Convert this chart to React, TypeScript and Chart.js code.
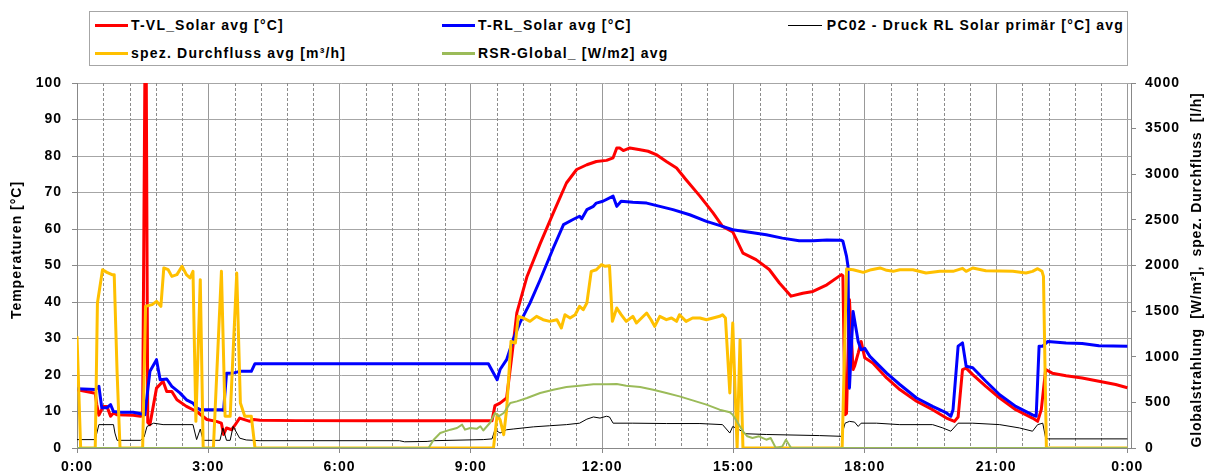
import React, { useEffect, useRef } from 'react';
import { Chart, registerables } from 'chart.js';

Chart.register(...registerables);

const FONT = "'Liberation Sans', Arial, Helvetica, sans-serif";

// x positions are minutes after midnight
const xTickMinutes = [0, 180, 360, 540, 720, 900, 1080, 1260, 1440];
const xTickLabels = ['0:00', '3:00', '6:00', '9:00', '12:00', '15:00', '18:00', '21:00', '0:00'];
const MINOR_STEP = 36;

// T-VL_Solar avg [°C]  (left axis)
const tVL: [number, number][] = [
  [0, 16], [25, 15], [27, 12], [30, 9], [36, 11.4], [41, 11.4], [46, 8.7], [50, 9.6], [55, 9.1],
  [77, 9], [87, 8.7], [90, 8.8], [93, 100], [95, 100], [97, 7], [100, 6.4], [109, 16.4], [118, 18.3],
  [123, 15.5], [130, 15.5], [137, 13.2], [150, 11.4], [164, 10], [178, 7.8], [191, 7.3], [198, 6.8],
  [201, 3.7], [205, 5.5], [212, 5], [216, 6.1], [223, 8.2], [237, 7.3], [242, 7.8], [251, 7.6],
  [300, 7.5], [400, 7.5], [500, 7.5], [569, 7.5], [573, 11.6], [580, 12.3], [589, 13.7], [596, 25],
  [603, 37], [617, 47], [635, 56], [653, 64.4], [671, 72.6], [685, 76.3], [699, 77.6], [712, 78.5],
  [726, 78.8], [735, 79.5], [740, 82.2], [744, 82.2], [749, 81.5], [758, 82.2], [772, 81.7], [783, 81.3],
  [794, 80.4], [808, 78.5], [822, 76.7], [835, 73.5], [854, 69], [872, 64.4], [885, 60.7], [899, 59.2],
  [913, 53.4], [931, 51.6], [949, 48.9], [963, 45.2], [979, 41.6], [995, 42.4], [1009, 42.9], [1028, 44.7],
  [1048, 47.5], [1050, 47.2], [1053, 9.1], [1055, 9.5], [1059, 40.6], [1064, 21.5], [1066, 22.4],
  [1071, 26], [1075, 29.2], [1080, 24.7], [1091, 23.3], [1110, 19.2], [1128, 16], [1151, 12.8],
  [1173, 10.5], [1192, 8.2], [1203, 7.3], [1208, 8.5], [1214, 21.5], [1219, 21.9], [1228, 20.1],
  [1246, 16.9], [1265, 13.7], [1287, 10.5], [1310, 8.2], [1317, 7.3], [1322, 10.5], [1328, 21.5],
  [1337, 20.5], [1356, 19.8], [1378, 19.2], [1401, 18.3], [1424, 17.4], [1440, 16.5],
];

// T-RL_Solar avg [°C]  (left axis)
const tRL: [number, number][] = [
  [0, 16.2], [25, 16], [30, 16.9], [34, 11], [41, 11], [46, 11.9], [50, 10], [59, 9.8], [77, 9.8],
  [87, 9.4], [93, 9.1], [100, 21], [109, 24.2], [114, 18.7], [123, 18.9], [130, 16.9], [141, 15.1],
  [150, 13.2], [159, 12.3], [164, 11], [169, 10.5], [198, 10.5], [201, 10.3], [205, 20.5], [214, 20.5],
  [223, 21], [239, 21], [244, 23.1], [564, 23.1], [576, 18.7], [580, 21.5], [589, 24.2], [598, 29.7],
  [607, 34.2], [621, 39.7], [635, 46.1], [653, 54.8], [667, 61.2], [680, 62.6], [689, 63.5], [692, 62.8],
  [699, 65.3], [708, 66.2], [712, 67.1], [721, 67.6], [735, 69], [740, 66.2], [746, 67.6], [762, 67.3],
  [781, 67.1], [799, 66.2], [817, 65.3], [840, 63.9], [863, 62.1], [885, 60.7], [899, 59.8], [922, 59.1],
  [945, 58.4], [967, 57.5], [990, 56.8], [1009, 56.8], [1028, 57], [1048, 56.9], [1050, 56.7],
  [1055, 52.5], [1057, 49.8], [1059, 16.4], [1064, 37.4], [1071, 29.2], [1075, 26.9], [1080, 27.3],
  [1087, 25.1], [1110, 20.5], [1128, 17.4], [1151, 13.7], [1173, 11.4], [1192, 9.6], [1198, 8.7],
  [1201, 10.5], [1208, 27.9], [1214, 28.8], [1219, 22.4], [1228, 22], [1246, 18.3], [1265, 14.6],
  [1287, 11.4], [1310, 9.1], [1315, 8.7], [1319, 27.9], [1324, 27.9], [1331, 29.2], [1356, 28.8],
  [1378, 28.6], [1401, 28], [1440, 27.9],
];

// PC02 - Druck RL Solar primär  (left axis)
const pc02: [number, number][] = [
  [0, 2.3], [25, 2.3], [30, 6.4], [50, 6.4], [52, 4.1], [55, 2.1], [87, 2.1], [92, 3], [96, 5.9],
  [105, 6.8], [118, 6.4], [159, 6.4], [164, 2.3], [169, 5.2], [173, 2.1], [196, 2.1], [200, 5.5],
  [205, 2.1], [210, 2.1], [214, 5.9], [223, 2.7], [232, 2.2], [251, 2.0], [442, 2.0], [449, 1.7],
  [480, 1.8], [489, 2.0], [557, 2.3], [569, 2.5], [573, 5], [580, 4.1], [589, 5], [598, 5.2], [626, 5.8],
  [648, 6.1], [671, 6.4], [689, 6.8], [699, 7.9], [708, 8.5], [717, 8.2], [726, 8.7], [730, 8.5],
  [735, 6.8], [762, 6.8], [808, 6.7], [854, 6.7], [885, 6.4], [895, 4.1], [899, 5.9], [908, 5],
  [917, 3.9], [945, 3.7], [1018, 3.4], [1048, 3.2], [1053, 6.8], [1059, 7.3], [1066, 7.1], [1071, 5.9],
  [1075, 6.8], [1096, 6.8], [1128, 6.4], [1173, 6.4], [1187, 5.5], [1198, 4.6], [1208, 6.8], [1228, 6.8],
  [1265, 6.4], [1292, 5.5], [1310, 4.6], [1317, 6.4], [1324, 6.8], [1328, 2.7], [1332, 2.5], [1440, 2.5],
];

// spez. Durchfluss avg [l/h]  (right axis)
const durchfluss: [number, number][] = [
  [0, 1224], [5, 0], [25, 0], [28, 1589], [35, 1954], [41, 1925], [48, 1900], [51, 1900], [55, 822],
  [59, 0], [90, 0], [94, 1553], [103, 1571], [109, 1607], [115, 1553], [119, 1973], [125, 1954],
  [130, 1881], [137, 1900], [144, 1991], [150, 1900], [155, 1863], [159, 1936], [163, 292], [169, 1845],
  [173, 0], [187, 0], [198, 1936], [203, 347], [210, 347], [219, 1918], [224, 493], [230, 347], [239, 347],
  [244, 0], [571, 0], [576, 365], [580, 310], [585, 146], [589, 420], [595, 1169], [601, 1151],
  [605, 1443], [612, 1425], [621, 1388], [630, 1443], [639, 1406], [648, 1388], [658, 1406], [664, 1315],
  [669, 1461], [676, 1425], [683, 1461], [689, 1553], [694, 1516], [699, 1589], [705, 1936], [712, 1954],
  [719, 2009], [724, 1991], [730, 1998], [734, 1388], [740, 1534], [746, 1461], [753, 1388], [762, 1443],
  [767, 1370], [781, 1479], [787, 1406], [792, 1333], [799, 1443], [808, 1406], [815, 1425], [822, 1388],
  [826, 1461], [835, 1388], [844, 1425], [854, 1425], [863, 1406], [872, 1425], [881, 1443], [885, 1461],
  [889, 1425], [895, 603], [899, 1370], [905, 0], [909, 1187], [913, 0], [1049, 0], [1055, 1962],
  [1064, 1954], [1078, 1925], [1089, 1954], [1101, 1973], [1110, 1947], [1119, 1936], [1128, 1954],
  [1146, 1954], [1164, 1918], [1183, 1936], [1201, 1936], [1214, 1969], [1219, 1936], [1228, 1973],
  [1246, 1943], [1265, 1940], [1283, 1936], [1301, 1918], [1310, 1936], [1317, 1965], [1323, 1936],
  [1325, 1881], [1329, 0], [1440, 0],
];

// RSR-Global_ [W/m2] avg  (right axis)
const rsrGlobal: [number, number][] = [
  [0, 0], [482, 0], [489, 91], [498, 164], [512, 201], [521, 219], [528, 256], [532, 201], [539, 219],
  [548, 210], [553, 238], [557, 192], [566, 274], [573, 384], [578, 347], [585, 384], [594, 493],
  [603, 511], [617, 548], [635, 603], [653, 639], [671, 669], [689, 683], [708, 698], [726, 698],
  [740, 701], [753, 683], [772, 669], [790, 639], [808, 603], [826, 566], [844, 522], [863, 475],
  [881, 420], [895, 391], [899, 365], [906, 274], [913, 183], [919, 128], [926, 110], [935, 128],
  [945, 91], [951, 110], [958, 0], [967, 18], [972, 91], [979, 0], [1440, 0],
];

const toPoints = (arr: [number, number][]) => arr.map(([x, y]) => ({ x, y }));

const minorGrid = {
  id: 'minorGrid',
  beforeDraw(chart: any) {
    (chart.ctx as any).letterSpacing = '1px';
  },
  beforeDatasetsDraw(chart: any) {
    const { ctx, chartArea, scales } = chart;
    const xs = scales.x;
    ctx.save();
    ctx.strokeStyle = '#8c8c8c';
    ctx.lineWidth = 1;
    ctx.setLineDash([3, 2]);
    ctx.beginPath();
    for (let v = MINOR_STEP; v < 1440; v += MINOR_STEP) {
      if (v % 180 === 0) continue;
      const px = Math.round(xs.getPixelForValue(v)) + 0.5;
      ctx.moveTo(px, chartArea.top);
      ctx.lineTo(px, chartArea.bottom);
    }
    ctx.stroke();
    ctx.restore();
  },
};

const tickFont = { family: FONT, size: 14, weight: 'bold' as const };

const legendText: React.CSSProperties = {
  position: 'absolute',
  font: `bold 14px ${FONT}`,
  letterSpacing: '1.2px',
  lineHeight: '16px',
  whiteSpace: 'nowrap',
  color: '#000',
};

function LegendItem(props: { x: number; y: number; color: string; thick: number; label: string }) {
  const { x, y, color, thick, label } = props;
  return (
    <>
      <div style={{ position: 'absolute', left: x, top: y - thick / 2, width: 33, height: thick, background: color }} />
      <div style={{ ...legendText, left: x + 36, top: y - 8 }}>{label}</div>
    </>
  );
}

export default function App() {
  const ref = useRef<HTMLCanvasElement | null>(null);

  useEffect(() => {
    if (!ref.current) return;
    const chart = new Chart(ref.current, {
      type: 'line',
      data: {
        datasets: [
          { label: 'RSR-Global_ [W/m2] avg', data: toPoints(rsrGlobal), borderColor: '#9bbb59', borderWidth: 2, yAxisID: 'y1', order: 0 },
          { label: 'spez. Durchfluss avg [m³/h]', data: toPoints(durchfluss), borderColor: '#ffc000', borderWidth: 3, yAxisID: 'y1', order: 1 },
          { label: 'PC02 - Druck RL Solar primär [°C] avg', data: toPoints(pc02), borderColor: '#000000', borderWidth: 1, yAxisID: 'y', order: 2 },
          { label: 'T-RL_Solar avg [°C]', data: toPoints(tRL), borderColor: '#0000ff', borderWidth: 3, yAxisID: 'y', order: 3 },
          { label: 'T-VL_Solar avg [°C]', data: toPoints(tVL), borderColor: '#ff0000', borderWidth: 3, yAxisID: 'y', order: 4 },
        ] as any,
      },
      options: {
        animation: false,
        responsive: false,
        devicePixelRatio: 1,
        layout: { padding: { top: 83, left: 0, right: 0, bottom: 0 } },
        elements: { point: { radius: 0 }, line: { tension: 0, borderJoinStyle: 'round' } },
        plugins: { legend: { display: false }, tooltip: { enabled: false } },
        scales: {
          x: {
            type: 'linear',
            min: 0,
            max: 1445,
            afterBuildTicks: (s: any) => {
              s.ticks = xTickMinutes.map((v) => ({ value: v }));
            },
            afterFit: (s: any) => {
              s.height = 28;
            },
            ticks: {
              autoSkip: false,
              maxRotation: 0,
              minRotation: 0,
              padding: 6,
              color: '#000',
              font: tickFont,
              callback: (_v: any, i: number) => xTickLabels[i],
            },
            grid: { color: '#999999', lineWidth: 1, tickLength: 5, tickColor: '#888888' },
            border: { color: '#888888', width: 1 },
          },
          y: {
            position: 'left',
            min: 0,
            max: 100,
            afterFit: (s: any) => {
              s.width = 77;
            },
            ticks: { stepSize: 10, padding: 10, color: '#000', font: tickFont, callback: (v: any) => String(v) },
            grid: { color: '#a6a6a6', lineWidth: 1, tickLength: 5, tickColor: '#888888' },
            border: { color: '#888888', width: 1 },
          },
          y1: {
            position: 'right',
            min: 0,
            max: 4000,
            afterFit: (s: any) => {
              s.width = 81;
            },
            ticks: { stepSize: 500, padding: 9, color: '#000', font: tickFont, callback: (v: any) => String(v) },
            grid: { drawOnChartArea: false, tickLength: 5, tickColor: '#888888' },
            border: { color: '#888888', width: 1 },
          },
        } as any,
      },
      plugins: [minorGrid],
    });
    return () => chart.destroy();
  }, []);

  return (
    <div style={{ position: 'fixed', left: 0, top: 0, width: 1212, height: 476, background: '#fff', overflow: 'hidden' }}>
      <canvas ref={ref} width={1212} height={476} style={{ position: 'absolute', left: 0, top: 0, display: 'block' }} />
      <div
        style={{
          position: 'absolute', left: 89, top: 11, width: 1039, height: 55,
          border: '1px solid #a6a6a6', boxSizing: 'border-box', background: '#fff',
        }}
      />
      <LegendItem x={95} y={25} color="#ff0000" thick={3} label="T-VL_Solar avg [°C]" />
      <LegendItem x={442} y={25} color="#0000ff" thick={3} label="T-RL_Solar avg [°C]" />
      <div style={{ position: 'absolute', left: 788, top: 25, width: 34, height: 1, background: '#000' }} />
      <div style={{ ...legendText, right: 1212 - 1124, top: 25 - 8 }}>PC02 - Druck RL Solar primär [°C] avg</div>
      <LegendItem x={95} y={53} color="#ffc000" thick={3} label="spez. Durchfluss avg [m³/h]" />
      <LegendItem x={442} y={53} color="#9bbb59" thick={3} label="RSR-Global_ [W/m2] avg" />
      <div
        style={{
          position: 'absolute', left: 18 - 150, top: 250 - 10, width: 300, height: 20, lineHeight: '20px',
          textAlign: 'center', transform: 'rotate(-90deg)', font: `bold 14px ${FONT}`, letterSpacing: '1px',
          whiteSpace: 'pre', color: '#000',
        }}
      >
        Temperaturen [°C]
      </div>
      <div
        style={{
          position: 'absolute', left: 1198 - 250, top: 270 - 10, width: 500, height: 20, lineHeight: '20px',
          textAlign: 'center', transform: 'rotate(-90deg)', font: `bold 14px ${FONT}`, letterSpacing: '0.8px',
          whiteSpace: 'pre', color: '#000',
        }}
      >
        {'Globalstrahlung  [W/m²],  spez. Durchfluss  [l/h]'}
      </div>
    </div>
  );
}
